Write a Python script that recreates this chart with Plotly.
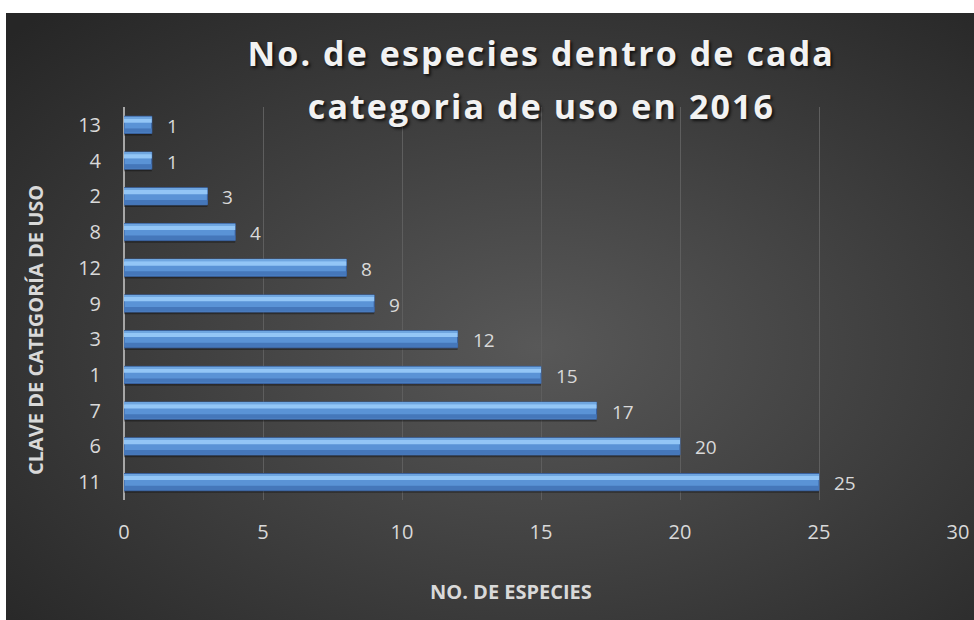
import base64
import plotly.graph_objects as go

# Use-category keys (bottom to top) and number of species in each
categorias = ["11", "6", "7", "1", "3", "9", "12", "8", "2", "4", "13"]
especies = [25, 20, 17, 15, 12, 9, 8, 4, 3, 1, 1]
x_ticks = [0, 5, 10, 15, 20, 25, 30]

W, H = 974, 620
L, R, T, B = 124, 16, 107, 120
pw, ph = W - L - R, H - T - B

FONT = "Open Sans"
TXT = "#d9d9d9"


def bar_layer(width, offset, color, line=None, hover=True):
    return go.Bar(
        y=categorias, x=especies, orientation="h",
        width=width, offset=offset,
        marker=dict(color=color, line=line or dict(width=0)),
        hoverinfo=None if hover else "skip", showlegend=False,
    )


fig = go.Figure()
# soft drop shadow under each bar
fig.add_trace(bar_layer(0.46, -0.30, "rgba(0,0,0,0.35)", hover=False))
# main bar body with a dark rim
fig.add_trace(bar_layer(0.48, -0.24, "#5a93d6", dict(color="#3a62a0", width=1)))
# lower darker bevel
fig.add_trace(bar_layer(0.12, -0.22, "#4577ba", hover=False))
# upper bright highlight
fig.add_trace(bar_layer(0.12, 0.06, "#93c6f6", hover=False))
# thin top edge
fig.add_trace(bar_layer(0.04, 0.19, "#6fa6e0", hover=False))

# value labels next to each bar end (y given as category position)
for i, v in enumerate(especies):
    fig.add_annotation(
        x=v, y=i, text=str(v), showarrow=False,
        xanchor="left", xshift=13, yshift=-1,
        font=dict(family=FONT, size=19, color=TXT),
    )

# dark radial-gradient chart background
svg = (
    '<svg xmlns="http://www.w3.org/2000/svg" width="968" height="607" viewBox="0 0 968 607" preserveAspectRatio="none">'
    '<defs><radialGradient id="g" cx="55%" cy="55%" r="75%">'
    '<stop offset="0" stop-color="#585858"/>'
    '<stop offset="1" stop-color="#262626"/>'
    '</radialGradient></defs>'
    '<rect width="968" height="607" fill="url(#g)"/></svg>'
)
src = "data:image/svg+xml;base64," + base64.b64encode(svg.encode()).decode()
bx0, bx1, by0, by1 = 6, 974, 13, 620
fig.add_layout_image(
    source=src, xref="paper", yref="paper",
    x=(bx0 - L) / pw, y=(H - B - by0) / ph,
    sizex=(bx1 - bx0) / pw, sizey=(by1 - by0) / ph,
    xanchor="left", yanchor="top", sizing="stretch", layer="below",
)

# two-line title
for txt, ypx in [("No. de especies dentro de cada", 53), ("categoria de uso en 2016", 106)]:
    fig.add_annotation(
        text=txt, xref="paper", yref="paper",
        x=(541 - L) / pw, y=(H - B - ypx) / ph,
        showarrow=False, xanchor="center", yanchor="middle",
        font=dict(family=FONT, size=34, color="#f2f2f2", weight="bold",
                  shadow="2px 2px 3px rgba(0,0,0,0.7)"),
    )

# axis titles
fig.add_annotation(
    text="NO. DE ESPECIES", xref="paper", yref="paper",
    x=(511 - L) / pw, y=(H - B - 591) / ph,
    showarrow=False, xanchor="center", yanchor="middle",
    font=dict(family=FONT, size=20, color=TXT, weight="bold"),
)
fig.add_annotation(
    text="CLAVE DE CATEGORÍA DE USO", xref="paper", yref="paper",
    x=(35 - L) / pw, y=(H - B - 330) / ph, textangle=-90,
    showarrow=False, xanchor="center", yanchor="middle",
    font=dict(family=FONT, size=20, color=TXT, weight="bold"),
)

fig.update_layout(
    width=W, height=H,
    margin=dict(l=L, r=R, t=T, b=B, autoexpand=False),
    paper_bgcolor="white",
    plot_bgcolor="rgba(0,0,0,0)",
    barmode="overlay",
    showlegend=False,
    font=dict(family=FONT, color=TXT),
    xaxis=dict(
        range=[0, 30], tickvals=x_ticks, ticktext=[str(t) for t in x_ticks],
        showgrid=True, gridcolor="#5e5e5e", gridwidth=1,
        zeroline=True, zerolinecolor="#a6a6a6", zerolinewidth=2,
        showline=False, ticks="", ticklabelstandoff=18, automargin=False,
        tickfont=dict(family=FONT, size=20, color=TXT),
        fixedrange=True,
    ),
    yaxis=dict(
        type="category", categoryorder="array", categoryarray=categorias,
        range=[-0.5, len(categorias) - 0.5],
        showgrid=False, zeroline=False, showline=False, ticks="",
        ticklabelstandoff=22, automargin=False,
        tickfont=dict(family=FONT, size=20, color=TXT),
        fixedrange=True,
    ),
)

# widen the tracking of the two title lines
post = """
var gd = document.querySelector('.plotly-graph-div');
gd.querySelectorAll('.annotation-text').forEach(function (t) {
  var s = t.textContent;
  if (s.indexOf('No. de especies') === 0 || s.indexOf('categoria de uso') === 0) {
    t.style.letterSpacing = '2.1px';
  }
});
"""
fig.write_html("out.html", post_script=post)
